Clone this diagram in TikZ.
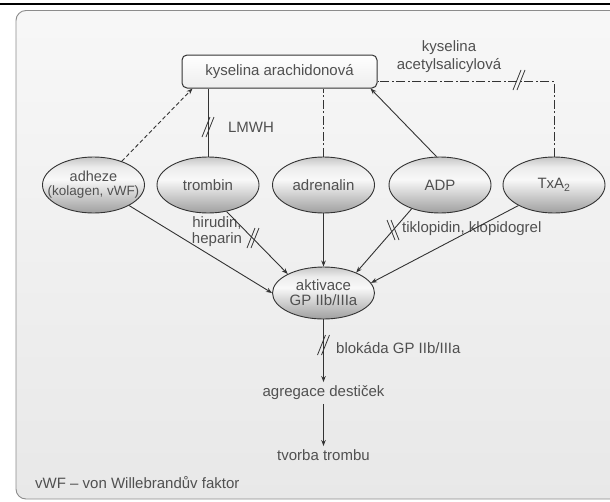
\documentclass[tikz,border=0pt]{standalone}
\usepackage{fontspec}
\setmainfont{Liberation Sans}
\usetikzlibrary{shapes.geometric,arrows.meta,calc}
\definecolor{txtgray}{HTML}{505050}
\definecolor{lngray}{HTML}{333333}
\definecolor{framegray}{HTML}{8C8C8C}
\pgfdeclareverticalshading{ellshade}{100bp}{color(0bp)=(gray!75); color(25bp)=(gray!75); color(38bp)=(gray!45); color(55bp)=(gray!5); color(66bp)=(gray!15); color(75bp)=(gray!45); color(100bp)=(gray!45)}
\begin{document}
\begin{tikzpicture}[x=1pt,y=-1pt,
  ellnode/.style={ellipse, draw=lngray, line width=0.9pt, minimum width=102pt, minimum height=56pt, inner sep=0pt,
    shading=ellshade, text=txtgray,
    font=\fontsize{15}{15}\selectfont, align=center},
  boxnode/.style={rectangle, rounded corners=5pt, draw=lngray, line width=1pt, minimum width=195pt, minimum height=33pt,
    inner sep=0pt, top color=white, bottom color=gray!14, text=txtgray, font=\fontsize{15}{16}\selectfont},
  txt/.style={text=txtgray, font=\fontsize{15}{16}\selectfont, inner sep=1pt},
  ln/.style={draw=lngray, line width=0.9pt},
  arr/.style={-{Stealth[length=6pt,width=4.5pt]}},
  ddline/.style={dash pattern=on 9pt off 2.5pt on 2pt off 2.5pt},
  dshline/.style={dash pattern=on 4pt off 2.5pt},
  brk/.pic={\draw[lngray, line width=0.8pt] (-6,10)--(2,-10) (-2,10)--(6,-10);}
]
\clip (0,0) rectangle (610,501);
\useasboundingbox (0,0) rectangle (610,501);
\fill[white] (0,0) rectangle (610,501);
\fill[black] (0,2.7) rectangle (610,5.3);
\draw[framegray, line width=0.9pt, rounded corners=10pt, top color=white!97!black, bottom color=white!91!black] (16,10.5) rectangle (650,499);

% nodes
\node[boxnode] (ka) at (279.5,71.5) {kyselina arachidonová};
\node[ellnode, font=\fontsize{13.5}{14}\selectfont] (adh) at (93.5,185) {\makebox[60pt][c]{\fontsize{14.5}{14}\selectfont adheze}\\\makebox[60pt][c]{(kolagen, vWF)}};
\node[ellnode] (tro) at (208,185) {trombin};
\node[ellnode] (adr) at (323.5,185) {adrenalin};
\node[ellnode] (adp) at (440,185) {ADP};
\node[ellnode] (txa) at (554,185) {TxA\textsubscript{2}};
\node[ellnode, minimum height=52pt] (akt) at (323.5,293) {aktivace\\GP IIb/IIIa};

\node[txt] (lmwh) at (251,127) {LMWH};
\node[txt, align=center] (hir) at (217,232) {hirudin,\\heparin};
\node[txt, anchor=west] (tik) at (401,229) {tiklopidin, klopidogrel};
\node[txt, align=center, font=\fontsize{15}{18}\selectfont] (asa) at (449,57) {kyselina\\acetylsalicylová};
\node[txt, anchor=west] (blk) at (335,348) {blokáda GP IIb/IIIa};
\node[txt, text height=10.5pt, text depth=3pt, inner ysep=4pt] (agr) at (323.5,393) {agregace destiček};
\node[txt, text height=10.5pt, text depth=3pt, inner ysep=4pt] (tvo) at (323.5,457) {tvorba trombu};
\node[txt, anchor=west] (vwf) at (34,483) {vWF – von Willebrandův faktor};

% connectors to arachidonic acid
\draw[ln, dshline, arr] (adh.40) -- ($(ka.south west)+(11,0)$);
\draw[ln] (tro.north) -- (tro.north |- ka.south);
\draw[ln, ddline] (adr.north) -- (adr.north |- ka.south);
\draw[ln, arr] (adp.97) -- ($(ka.south east)+(-7,0)$);
\coordinate (kr) at ($(ka.south east)+(0,-7)$);
\draw[ln, ddline] (txa.north) -- (txa.north |- kr) -- (kr);

% connectors to activation
\draw[ln, arr] (adh.-30) -- (akt.west);
\draw[ln, arr] (tro.-55) -- (akt.152);
\draw[ln, arr] (adr.south) -- (akt.north);
\draw[ln, arr] (adp.-140) -- (akt.32);
\draw[ln, arr] (txa.-150) -- (akt.12);
\draw[ln, arr] (akt.south) -- (akt.south |- agr.north);
\draw[ln, arr] (agr.south) -- (tvo.north);

% break marks
\pic at (208,127) {brk};
\pic at (253,238) {brk};
\pic[xscale=-1] at (393,230) {brk};
\pic at (519,80) {brk};
\pic at (323.5,345) {brk};
\end{tikzpicture}
\end{document}
